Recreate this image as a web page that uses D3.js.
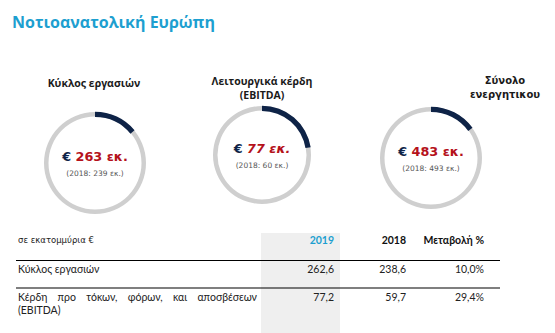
<!DOCTYPE html>
<html>
<head>
<meta charset="utf-8">
<script src="https://cdn.jsdelivr.net/npm/d3@7"></script>
<style>
  html, body { margin: 0; padding: 0; background: #fff; }
  svg { display: block; }
</style>
</head>
<body>
<svg id="chart" width="555" height="333"></svg>
<script>
// Headline figures shown in the three rings (€ million)
const kpiTitles = [["Κύκλος εργασιών"], ["Λειτουργικά κέρδη", "(EBITDA)"], ["Σύνολο", "ενεργητικου"]];
const kpiValues = [263, 77, 483];
const kpiPrior = [239, 60, 493];
const kpiShare = [0.14, 0.225, 0.15];

// Table rows
const rowLabels = [["Κύκλος εργασιών"], ["Κέρδη προ τόκων, φόρων, και αποσβέσεων", "(EBITDA)"]];
const values2019 = ["262,6", "77,2"];
const values2018 = ["238,6", "59,7"];
const changePct = ["10,0%", "29,4%"];
const colHeaders = ["2019", "2018", "Μεταβολή %"];

const svg = d3.select("#chart");
const navy = "#0e2347";
const red = "#b5121b";
const cyan = "#1d9fd0";

// Title
svg.append("text")
  .attr("x", 12).attr("y", 28)
  .attr("font-family", "Open Sans").attr("font-weight", 700)
  .attr("font-size", 16).attr("fill", cyan)
  .text("Νοτιοανατολική Ευρώπη");

// Ring layout
const ringCx = [95, 262, 431];
const ringCy = [163, 155, 158];
const ringR = [51, 49, 51];
const titleCx = [94, 262, 505];
const titleY = [87, 85, 84];
const titleFonts = ["Open Sans", "Open Sans", "DejaVu Sans"];
const angle = d3.scaleLinear().domain([0, 1]).range([0, 2 * Math.PI]);

kpiValues.forEach((v, i) => {
  const g = svg.append("g").attr("transform", `translate(${ringCx[i]},${ringCy[i]})`);
  const arc = d3.arc().innerRadius(ringR[i] - 4.5).outerRadius(ringR[i]);
  const arcDark = d3.arc().innerRadius(ringR[i] - 5).outerRadius(ringR[i] + 0.3);
  g.append("path").attr("d", arc({ startAngle: 0, endAngle: angle(1) })).attr("fill", "#cfcfcf");
  g.append("path").attr("d", arcDark({ startAngle: angle(0), endAngle: angle(kpiShare[i]) })).attr("fill", navy);

  const t = g.append("text").attr("text-anchor", "middle").attr("y", -2)
    .attr("font-family", "DejaVu Sans").attr("font-weight", 700).attr("font-size", 12.8);
  t.append("tspan").attr("fill", navy).text("€ ");
  t.append("tspan").attr("fill", red).attr("font-style", i === 1 ? "italic" : "normal").text(`${v} εκ.`);

  g.append("text").attr("text-anchor", "middle").attr("y", 12.5)
    .attr("font-family", "DejaVu Sans").attr("font-size", 7.5).attr("fill", "#555")
    .text(`(2018: ${kpiPrior[i]} εκ.)`);

  kpiTitles[i].forEach((line, j) => {
    svg.append("text")
      .attr("x", titleCx[i]).attr("y", titleY[i] + j * 13.5)
      .attr("text-anchor", "middle")
      .attr("font-family", titleFonts[i]).attr("font-weight", 700)
      .attr("font-size", i === 2 ? 10 : 10.5).attr("fill", "#1a1a1a")
      .text(line);
  });
});

// Table
const tableFont = "Lato";
svg.append("rect").attr("x", 261).attr("y", 233).attr("width", 79).attr("height", 100).attr("fill", "#efefef");

svg.append("text").attr("x", 18).attr("y", 243)
  .attr("font-family", "DejaVu Sans").attr("font-size", 8.5).attr("fill", "#222")
  .text("σε εκατομμύρια  €");

const colX = [334, 406, 484];
const colColors = [cyan, "#111", "#111"];
colHeaders.forEach((h, i) => {
  svg.append("text").attr("x", colX[i]).attr("y", 244).attr("text-anchor", "end")
    .attr("font-family", tableFont).attr("font-weight", 700).attr("font-size", 10.5)
    .attr("fill", colColors[i]).text(h);
});

const rowY = [260.5, 288];
rowY.forEach(y => {
  svg.append("line").attr("x1", 16).attr("x2", 500).attr("y1", y).attr("y2", y)
    .attr("stroke", "#000").attr("stroke-width", 1.2);
});

const cols = [values2019, values2018, changePct];
rowLabels.forEach((lines, r) => {
  const base = rowY[r] + 12.5;
  lines.forEach((line, j) => {
    const t = svg.append("text").attr("x", 18).attr("y", base + j * 13)
      .attr("font-family", tableFont).attr("font-size", 10.5).attr("fill", "#222");
    if (r === 1 && j === 0) {
      // justified first line of the wrapped label
      const words = line.split(" ");
      const tmp = svg.append("g");
      const widths = words.map(w => {
        const n = tmp.append("text").attr("font-family", tableFont).attr("font-size", 10.5).text(w);
        return n.node().getComputedTextLength();
      });
      tmp.remove();
      const total = d3.sum(widths);
      const gap = (257 - 18 - total) / (words.length - 1);
      let x = 18;
      words.forEach((w, k) => {
        t.append("tspan").attr("x", x).text(w);
        x += widths[k] + gap;
      });
    } else {
      t.text(line);
    }
  });
  cols.forEach((col, c) => {
    svg.append("text").attr("x", colX[c]).attr("y", base).attr("text-anchor", "end")
      .attr("font-family", tableFont).attr("font-size", 10.5).attr("fill", "#222")
      .text(col[r]);
  });
});
</script>
</body>
</html>
